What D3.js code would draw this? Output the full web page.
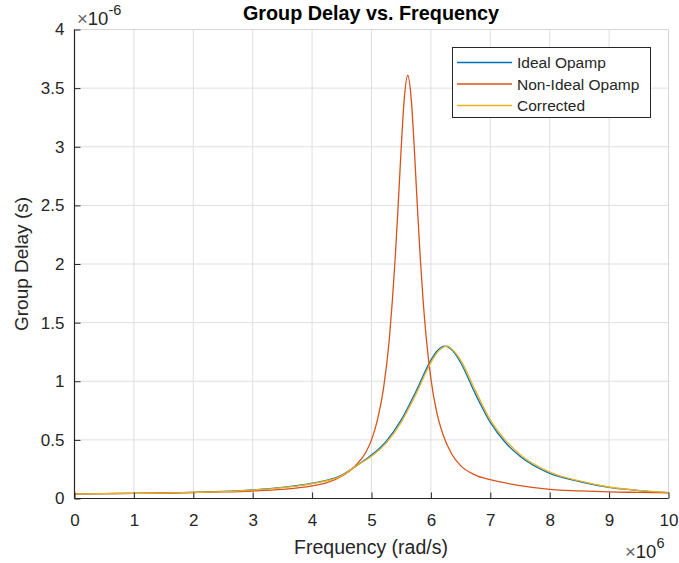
<!DOCTYPE html>
<html><head><meta charset="utf-8">
<script src="https://cdn.jsdelivr.net/npm/d3@7"></script>
<style>body{margin:0;background:#fff;} text{font-family:"Liberation Sans",Arial,sans-serif;fill:#262626;}</style>
</head><body><svg id="c" width="679" height="563"></svg>
<script>
// Frequency in units of 1e6 rad/s, group delay in units of 1e-6 s
const idealX = [0,1,2,3,3.5,4,4.5,4.75,5,5.25,5.5,5.75,6,6.1,6.24,6.4,6.5,6.75,7,7.25,7.5,8,8.5,9,9.5,10];
const idealY = [0.040,0.044,0.052,0.073,0.095,0.13,0.20,0.28,0.37,0.49,0.67,0.915,1.18,1.256,1.30,1.24,1.16,0.89,0.65,0.48,0.36,0.215,0.145,0.095,0.068,0.05];
const nonIdealX = [0,0.5,1,1.5,2,2.5,3,3.5,4,4.25,4.5,4.75,4.9,5,5.1,5.2,5.3,5.35,5.4,5.45,5.5,5.55,5.61,5.67,5.72,5.77,5.82,5.87,5.92,6,6.1,6.2,6.35,6.5,6.75,7,7.5,8,8.5,9,9.5,10];
const nonIdealY = [0.040,0.042,0.044,0.047,0.051,0.056,0.064,0.078,0.108,0.135,0.19,0.29,0.39,0.50,0.67,0.93,1.36,1.68,2.06,2.51,2.99,3.40,3.61,3.40,2.99,2.51,2.06,1.68,1.38,1.02,0.73,0.55,0.38,0.28,0.20,0.16,0.11,0.078,0.065,0.056,0.052,0.048];
const corrX = [0,1,2,3,3.5,4,4.5,4.75,5,5.25,5.5,5.75,6,6.1,6.27,6.4,6.5,6.75,7,7.25,7.5,8,8.5,9,9.5,10];
const corrY = [0.040,0.044,0.052,0.072,0.093,0.127,0.195,0.28,0.36,0.475,0.65,0.89,1.16,1.24,1.30,1.25,1.18,0.92,0.67,0.50,0.375,0.225,0.15,0.098,0.07,0.052];
const xTicks = [0,1,2,3,4,5,6,7,8,9,10];
const yTicks = [0,0.5,1,1.5,2,2.5,3,3.5,4];
const seriesNames = ["Ideal Opamp","Non-Ideal Opamp","Corrected"];
const colors = ["#0072BD","#D95319","#EDB120"];

const svg = d3.select("#c");
const L=74.5, R=668.5, T=29.5, B=498.5;
const x = d3.scaleLinear().domain([0,10]).range([L,R]);
const y = d3.scaleLinear().domain([0,4]).range([B,T]);

// grid
const g = svg.append("g");
g.selectAll(".gx").data(xTicks).enter().append("line")
  .attr("x1",d=>x(d)).attr("x2",d=>x(d)).attr("y1",T).attr("y2",B)
  .attr("stroke","#dfdfdf").attr("stroke-width",1);
g.selectAll(".gy").data(yTicks).enter().append("line")
  .attr("y1",d=>y(d)).attr("y2",d=>y(d)).attr("x1",L).attr("x2",R)
  .attr("stroke","#dfdfdf").attr("stroke-width",1);
svg.append("line").attr("x1",L).attr("x2",R).attr("y1",T).attr("y2",T).attr("stroke","#d6d6d6");
svg.append("line").attr("x1",R).attr("x2",R).attr("y1",T).attr("y2",B).attr("stroke","#d6d6d6");

// curves
const series = [[idealX,idealY],[nonIdealX,nonIdealY],[corrX,corrY]];
const line = d3.line().x(d=>x(d[0])).y(d=>y(d[1])).curve(d3.curveMonotoneX);
series.forEach((s,i)=>{
  const pts = s[0].map((v,j)=>[v,s[1][j]]);
  svg.append("path").datum(pts).attr("d",line).attr("fill","none")
    .attr("stroke",colors[i]).attr("stroke-width",1.3);
});

// axes
const xAxis = d3.axisBottom(x).tickValues(xTicks).tickSize(-6).tickPadding(15).tickFormat(d3.format("d"));
const yAxis = d3.axisLeft(y).tickValues(yTicks).tickSize(-6).tickPadding(10).tickFormat(d=>String(d));
const ax = svg.append("g").attr("transform",`translate(0,${B})`).call(xAxis);
const ay = svg.append("g").attr("transform",`translate(${L},0)`).call(yAxis);
[ax,ay].forEach(a=>{
  a.select(".domain").attr("stroke","#262626").attr("stroke-width",1.2);
  a.selectAll(".tick line").attr("stroke","#262626");
  a.selectAll(".tick text").attr("font-size",17).attr("fill","#262626").attr("font-family","Liberation Sans, Arial, sans-serif");
});
ay.select(".domain").attr("d",`M0,${B}V${T}`);
ax.select(".domain").attr("d",`M${L},0H${R}`);

// exponent labels
const e1 = svg.append("text").attr("x",77).attr("y",25).attr("font-size",18.5);
e1.append("tspan").style("fill","#666").text("\u00d7");
e1.append("tspan").text("10");
e1.append("tspan").attr("dy",-10).attr("font-size",14.5).text("-6");
const e2 = svg.append("text").attr("x",625).attr("y",558).attr("font-size",18.5);
e2.append("tspan").style("fill","#666").text("\u00d7");
e2.append("tspan").text("10");
e2.append("tspan").attr("dy",-10).attr("font-size",14.5).text("6");

// title & labels
svg.append("text").attr("x",371).attr("y",20).attr("text-anchor","middle")
  .attr("font-size",19.8).attr("font-weight","bold").style("fill","#000").text("Group Delay vs. Frequency");
svg.append("text").attr("x",371).attr("y",554).attr("text-anchor","middle")
  .attr("font-size",19.5).text("Frequency (rad/s)");
svg.append("text").attr("transform","translate(28,264) rotate(-90)").attr("text-anchor","middle")
  .attr("font-size",19).text("Group Delay (s)");

// legend
const lg = svg.append("g");
lg.append("rect").attr("x",452.5).attr("y",47.5).attr("width",198).attr("height",70)
  .attr("fill","#fff").attr("stroke","#262626").attr("stroke-width",1);
seriesNames.forEach((n,i)=>{
  const yy = 62.5 + i*21.5;
  lg.append("line").attr("x1",457).attr("x2",512).attr("y1",yy).attr("y2",yy)
    .attr("stroke",colors[i]).attr("stroke-width",1.3);
  lg.append("text").attr("x",517).attr("y",yy+5.5).attr("font-size",15.5).text(n);
});
</script></body></html>
